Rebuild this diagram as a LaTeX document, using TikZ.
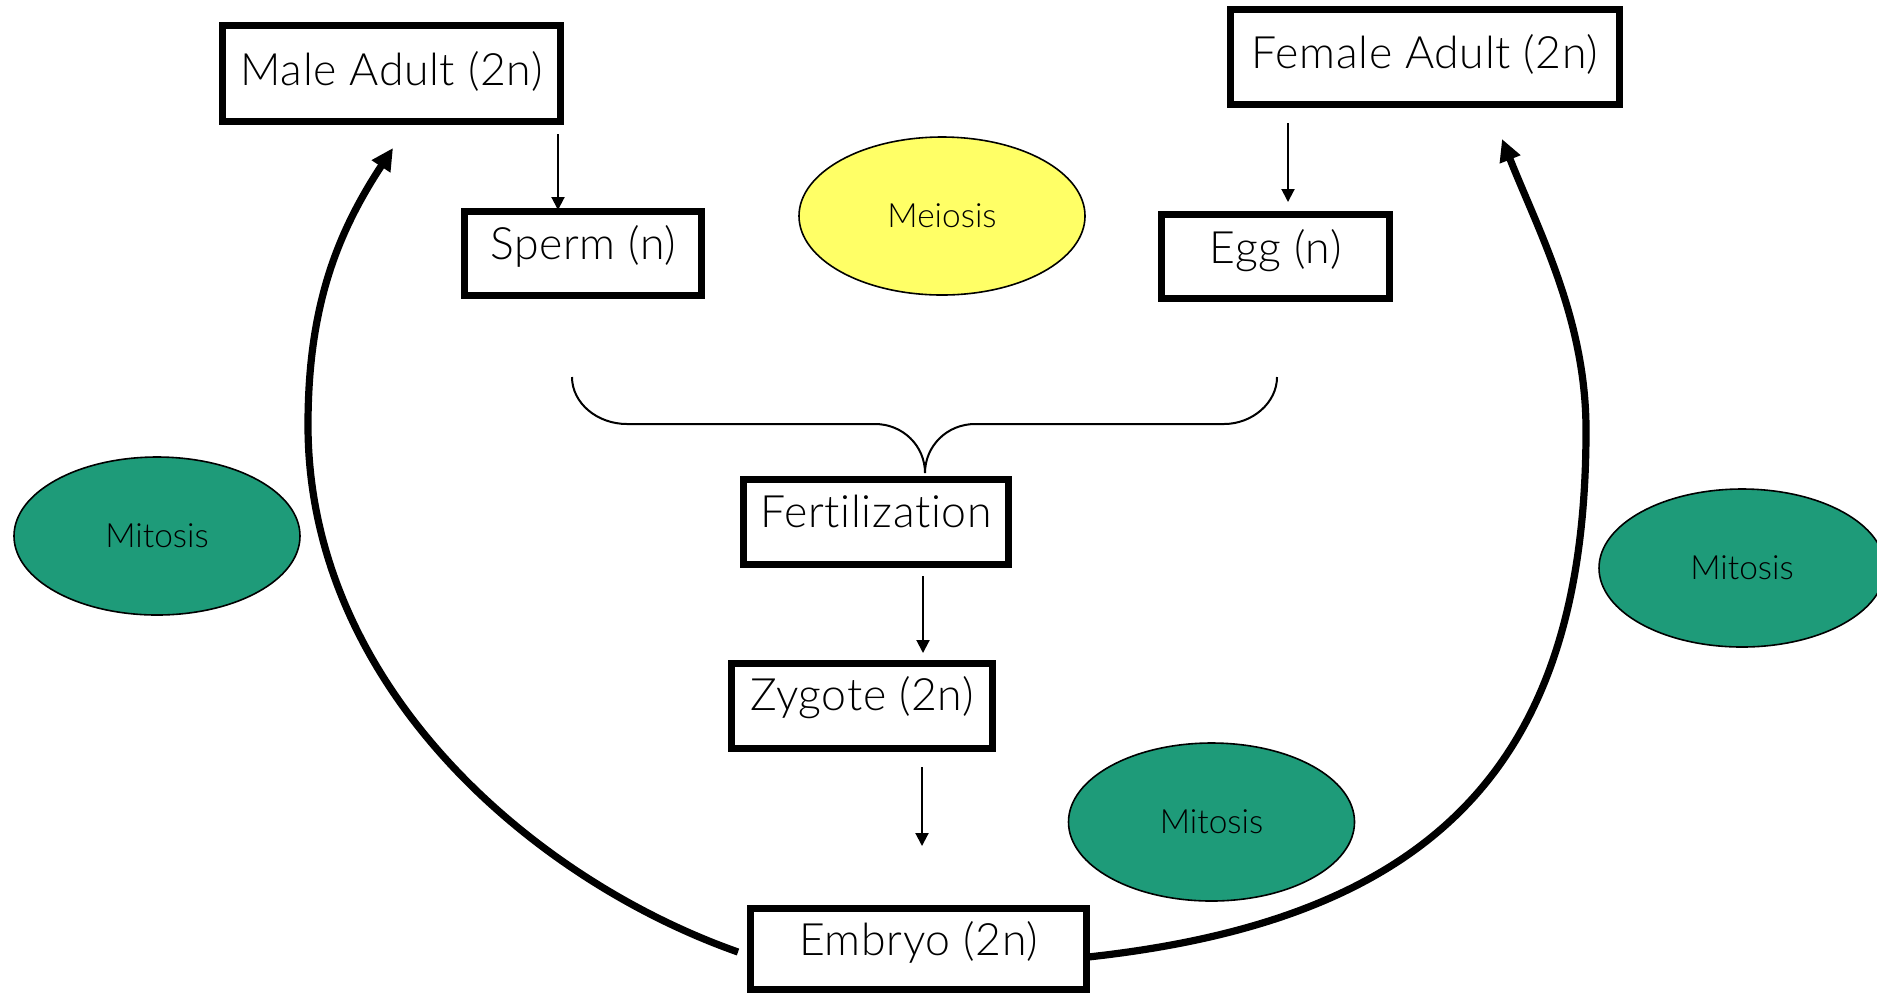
\documentclass[tikz,border=0pt]{standalone}
\usepackage{fontspec}
\setmainfont{Lato}[UprightFont={* Light}, Ligatures={NoCommon}]
\usetikzlibrary{arrows.meta,shapes.geometric,calc}
\definecolor{meiosisyellow}{RGB}{255,255,102}
\definecolor{mitosisgreen}{RGB}{30,155,121}
\tikzset{
  box/.style={draw, rectangle, line width=3.5pt, inner sep=0pt, fill=white,
    font=\fontsize{22.3}{25}\selectfont\addfontfeature{LetterSpace=1.5}, text height=15.8pt},
  oval/.style={ellipse, draw, line width=0.8pt, inner sep=0pt,
    minimum width=143pt, minimum height=79pt,
    font=\fontsize{16.7}{19}\selectfont, text=black},
  thinarrow/.style={line width=1pt, -{Triangle[width=6.5pt,length=6.5pt]}},
  bigarrow/.style={line width=3.6pt, -{Triangle[width=10.5pt,length=11pt]}},
  bracestyle/.style={line width=1pt}
}
\begin{document}
\begin{tikzpicture}[x=0.5pt,y=-0.5pt]
\useasboundingbox (0,0) rectangle (1877,993);
\fill[white] (0,0) rectangle (1877,993);

% boxes
\node[box, minimum width=169pt, minimum height=48pt, text depth=4pt] (male) at (391.5,73.5) {Male Adult (2n)};
\node[box, minimum width=118.5pt, minimum height=42pt, text depth=9.5pt] (sperm) at (583,253.5) {Sperm (n)};
\node[box, minimum width=194.5pt, minimum height=47.5pt, text depth=4pt] (female) at (1425,57) {Female Adult (2n)};
\node[box, minimum width=114pt, minimum height=42pt, text depth=8.5pt] (egg) at (1275.5,256.5) {Egg (n)};
\node[box, minimum width=132.5pt, minimum height=42.5pt, text depth=10pt] (fert) at (876,522) {Fertilization};
\node[box, minimum width=130.5pt, minimum height=42.5pt, text depth=11pt] (zygote) at (862,706) {Zygote (2n)};
\node[box, minimum width=168pt, minimum height=40.5pt, text depth=9pt] (embryo) at (918.5,949) {Embryo (2n)};

% ellipses
\node[oval, fill=meiosisyellow] (meiosis) at (942,216) {Meiosis};
\node[oval, fill=mitosisgreen] (mitosisL) at (157,536) {Mitosis};
\node[oval, fill=mitosisgreen] (mitosisR) at (1742,568) {Mitosis};
\node[oval, fill=mitosisgreen] (mitosisB) at (1211.5,822) {Mitosis};

% thin arrows
\draw[thinarrow] ([shift={(166.5,9)}]male.south) -- ([shift={(-25,2)}]sperm.north);
\draw[thinarrow] ([shift={(-137,15)}]female.south) -- ([shift={(12.5,-9)}]egg.north);
\draw[thinarrow] ([shift={(47,8)}]fert.south) -- ([shift={(61,-7)}]zygote.north);
\draw[thinarrow] ([shift={(60,15)}]zygote.south) -- ([shift={(3.5,-59)}]embryo.north);

% brace
\draw[bracestyle] (572,377) .. controls (572,403) and (597,424) .. (627,424)
  -- (875,424) .. controls (903,424) and (925,446) .. (925,473)
  .. controls (925,446) and (947,424) .. (975,424)
  -- (1224,424) .. controls (1252,424) and (1277,403) .. (1277,377);

% big cycle arrows
\coordinate (maletip) at ([shift={(1.5,23)}]male.south);
\coordinate (femtip) at ([shift={(77,31)}]female.south);
\draw[bigarrow] ([shift={(-9,3)}]embryo.west) .. controls (531,879) and (308,685) .. (308,425)
  .. controls (308,305) and (338,232) .. (maletip);
\draw[bigarrow] ([shift={(-2,8)}]embryo.east) .. controls (1438,919) and (1586,760) .. (1586,430)
  .. controls (1586,320) and (1539,232) .. (femtip);
\end{tikzpicture}
\end{document}
